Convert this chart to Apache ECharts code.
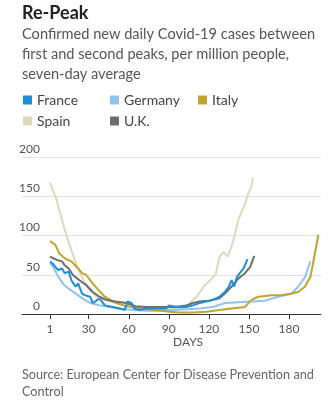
<!DOCTYPE html>
<html><head><meta charset="utf-8">
<script src="https://cdn.jsdelivr.net/npm/echarts@6/dist/echarts.min.js"></script>
<style>html,body{margin:0;padding:0;background:#fff}#c{width:335px;height:409px}</style>
</head><body><div id="c"></div>
<script>
const xTicks = [1, 30, 60, 90, 120, 150, 180];
const yTicks = [0, 50, 100, 150, 200];
const seriesNames = ['France', 'Germany', 'Italy', 'Spain', 'U.K.'];

const france = [[1,67],[3,64],[5,60],[7,56],[10,58],[12,52],[15,54],[17,43],[20,35],[22,39],[25,26],[27,24],[31,22],[33,14],[35,16],[37,19],[39,18],[42,11],[45,10],[48,9],[53,7],[57,5],[59,16],[62,14],[64,7],[68,5],[73,7],[80,7],[88,7],[90,11],[93,10],[98,9],[103,9],[108,11],[113,14],[118,16],[123,18],[128,22],[132,28],[135,35],[137,43],[139,35],[141,47],[144,54],[146,58],[149,70]];
const germany = [[1,65],[4,58],[7,48],[11,38],[16,31],[21,25],[26,19],[31,14],[38,11],[46,9],[53,7],[63,5],[73,4],[83,4],[93,5],[103,6],[113,7],[123,9],[132,14],[142,15],[152,16],[162,17],[172,22],[182,26],[187,35],[192,47],[196,67]];
const italy = [[1,93],[5,88],[8,77],[12,71],[17,67],[22,58],[25,52],[28,50],[32,41],[37,31],[42,22],[48,16],[56,11],[63,9],[70,7],[78,5],[85,4],[90,3],[98,2],[108,2],[118,3],[128,5],[137,7],[147,9],[152,18],[157,22],[167,24],[175,24],[182,26],[187,28],[192,35],[196,47],[198,64],[202,101]];
const spain = [[1,167],[6,145],[12,107],[17,81],[21,62],[26,43],[31,30],[36,22],[43,18],[50,14],[60,9],[70,7],[80,6],[90,6],[100,7],[104,10],[108,18],[111,22],[116,35],[121,43],[125,50],[128,73],[131,79],[134,73],[137,86],[140,105],[142,120],[145,132],[147,140],[150,156],[152,163],[153,174]];
const uk = [[1,73],[6,69],[10,67],[12,62],[15,58],[18,50],[23,43],[28,37],[33,28],[38,22],[43,18],[50,16],[58,14],[65,10],[73,9],[80,9],[88,9],[95,9],[103,11],[108,14],[113,16],[120,17],[128,20],[132,26],[137,35],[142,45],[147,52],[151,60],[154,74]];

const colors = {France:'#1f8ed6', Germany:'#90c4ec', Italy:'#c2a32e', Spain:'#ddd9bb', 'U.K.':'#6e6e6e'};
const FONT = 'Lato';

const chart = echarts.init(document.getElementById('c'), null, {renderer:'canvas'});
function lg(name, left, top){
  return {show:true, data:[name], left:left, top:top, padding:0, icon:'rect', itemWidth:9, itemHeight:9, itemGap:5,
    textStyle:{fontFamily:FONT, fontSize:14, color:'#444', padding:[0,0,0,0]}, selectedMode:false};
}
function line(name, data, z){
  return {name:name, type:'line', data:data, showSymbol:false, symbol:'none', lineStyle:{width:2, color:colors[name]}, itemStyle:{color:colors[name]}, z:z, animation:false};
}
chart.setOption({
  animation:false,
  textStyle:{fontFamily:FONT},
  legend:[lg('France',23,93), lg('Germany',110,93), lg('Italy',198,93), lg('Spain',23,114), lg('U.K.',110,114)],
  grid:{left:22, right:14, top:157, bottom:95, containLabel:false},
  xAxis:{type:'value', min:-20, max:204,
    axisLine:{show:true, lineStyle:{color:'#333', width:1}},
    axisTick:{show:true, length:5, lineStyle:{color:'#333'}, customValues:xTicks},
    axisLabel:{show:true, customValues:xTicks, fontFamily:FONT, fontSize:12, color:'#555', margin:9},
    splitLine:{show:false}},
  yAxis:{type:'value', min:0, max:200, interval:50,
    axisLine:{show:false}, axisTick:{show:false},
    axisLabel:{show:true, fontFamily:FONT, fontSize:12, color:'#555', align:'right', verticalAlign:'bottom', margin:-18, padding:[0,0,2,0]},
    splitLine:{show:true, lineStyle:{color:'#e2e2e2', width:1}}},
  series:[line('Spain',spain,1), line('Germany',germany,2), line('Italy',italy,3), line('U.K.',uk,4), line('France',france,5)],
  graphic:[
    {type:'text', left:22, top:4, style:{text:'Re-Peak', fontFamily:FONT, fontWeight:'bold', fontSize:18, fill:'#222'}},
    {type:'text', left:22, top:24, style:{text:'Confirmed new daily Covid-19 cases between\nfirst and second peaks, per million people,\nseven-day average', fontFamily:FONT, fontSize:14.6, lineHeight:20, fill:'#555'}},
    {type:'text', left:173, top:336, style:{text:'DAYS', fontFamily:FONT, fontSize:12, fill:'#555'}},
    {type:'text', left:22, top:366, style:{text:'Source: European Center for Disease Prevention and\nControl', fontFamily:FONT, fontSize:12.7, lineHeight:17, fill:'#666'}}
  ]
});
</script></body></html>
